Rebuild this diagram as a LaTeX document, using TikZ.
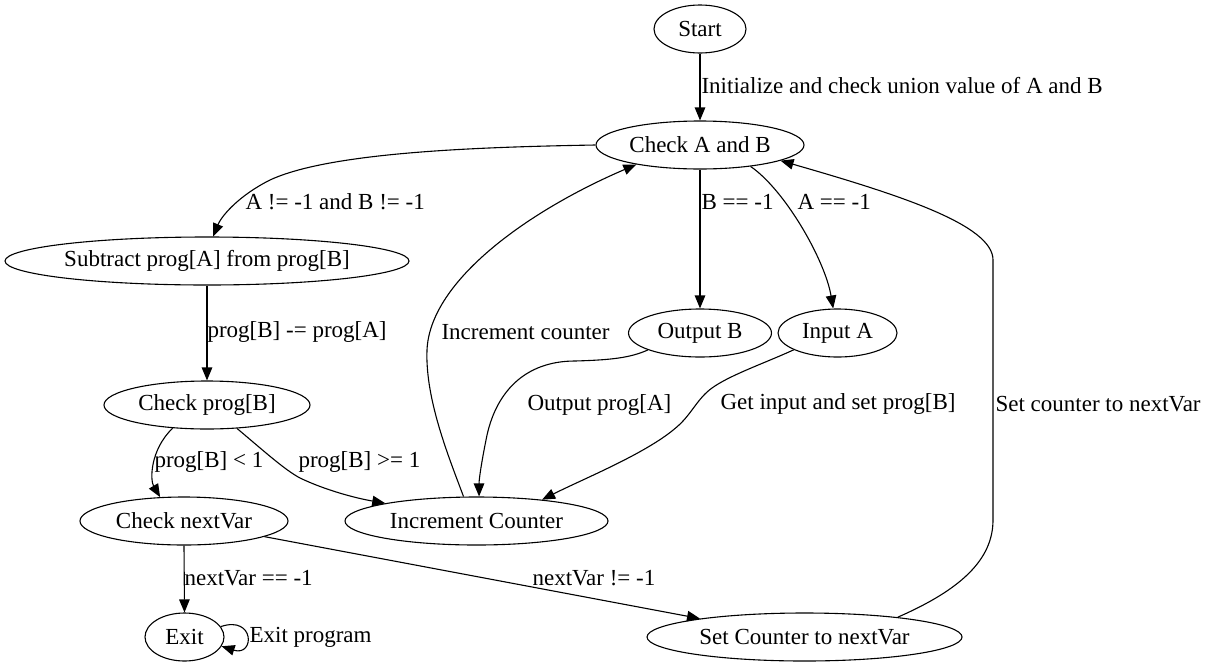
\documentclass[tikz,border=0pt]{standalone}
\usepackage{fontspec}
\setmainfont{Liberation Serif}
\usetikzlibrary{shapes.geometric,arrows.meta}
\newcommand\ctxt[1]{\makebox[0pt]{#1}}
\tikzset{
  st/.style={draw, ellipse, line width=1.1pt, inner sep=0pt, minimum height=48pt,
             font=\fontsize{23}{27}\selectfont},
  e/.style={line width=1.1pt, -{Triangle[length=13pt,width=10.5pt]}},
  lbl/.style={anchor=west, inner sep=0pt, font=\fontsize{23}{27}\selectfont},
}
\begin{document}
\begin{tikzpicture}[x=1pt,y=-1pt]
\useasboundingbox (0,0) rectangle (1217,667);
% nodes
\node[st, minimum width=92pt]  (start)   at (700,29)   {\ctxt{Start}};
\node[st, minimum width=208pt] (check)   at (700,145)  {\ctxt{Check A and B}};
\node[st, minimum width=404pt] (sub)     at (207,261)  {\ctxt{Subtract prog[A] from prog[B]}};
\node[st, minimum width=143pt] (outb)    at (700,333)  {\ctxt{Output B}};
\node[st, minimum width=119pt] (inputa)  at (837.5,333) {\ctxt{Input A}};
\node[st, minimum width=206pt] (checkpb) at (207,405)  {\ctxt{Check prog[B]}};
\node[st, minimum width=208pt] (nextvar) at (184,521)  {\ctxt{Check nextVar}};
\node[st, minimum width=263pt] (inc)     at (476.5,521) {\ctxt{Increment Counter}};
\node[st, minimum width=79pt]  (exit)    at (184.5,637) {\ctxt{Exit}};
\node[st, minimum width=315pt] (setc)    at (804.5,637) {\ctxt{Set Counter to nextVar}};
% edges
\draw[e] (start.south) -- (check.north)
  node[lbl, at={(701,86)}] (l1) {Initialize and check union value of A and B};
\draw[e] (check.west) .. controls (480,147) and (330,152) .. (270,180)
  .. controls (240,195) and (222,215) .. (sub.76)
  node[lbl, at={(245,202)}] (l2) {A != -1 and B != -1};
\draw[e] (check.south) -- (outb.north)
  node[lbl, at={(701,202)}] (l3) {B == -1};
\draw[e] (check.-23) .. controls (785,190) and (825,260) .. (inputa.100)
  node[lbl, at={(797,202)}] (l4) {A == -1};
\draw[e] (sub.south) -- (checkpb.north)
  node[lbl, at={(207,332)}] (l5) {prog[B] -= prog[A]};
\draw[e] (checkpb.-146) .. controls (150,450) and (150,480) .. (nextvar.135)
  node[lbl, at={(154,462)}] (l6) {prog[B] < 1};
\draw[e] (checkpb.-38) .. controls (265,452) and (285,470) .. (300,478)
  .. controls (325,490) and (355,498) .. (inc.169)
  node[lbl, at={(298,462)}] (l7) {prog[B] >= 1};
\draw[e] (outb.-162) .. controls (630,358) and (610,360) .. (575,361)
  .. controls (525,361) and (495,392) .. (486,440)
  .. controls (481,465) and (479,480) .. (inc.84)
  node[lbl, at={(527,405)}] (l8) {Output prog[A]};
\draw[e] (inputa.-159) .. controls (765,363) and (730,375) .. (712,388)
  .. controls (698,398) and (692,413) .. (679,425)
  .. controls (650,452) and (585,478) .. (inc.18)
  node[lbl, at={(720,404)}] (l9) {Get input and set prog[B]};
\draw[e] (inc.118) .. controls (450,460) and (425,400) .. (427,350)
  .. controls (430,280) and (530,210) .. (check.-163)
  node[lbl, at={(441,332)}] (l10) {Increment counter};
\draw[e] (nextvar.south) -- (exit.north)
  node[lbl, at={(184,578)}] (l11) {nextVar == -1};
\draw[e] (nextvar.-11) -- (setc.170.6)
  node[lbl, at={(532,578)}] (l12) {nextVar != -1};
\draw[e] (setc.12) .. controls (960,590) and (993,560) .. (993,520)
  -- (993,260) .. controls (993,225) and (900,195) .. (check.-11)
  node[lbl, at={(995,404)}] (l13) {Set counter to nextVar};
\draw[e] (exit.16) .. controls (255,615) and (255,657) .. (exit.-14)
  node[lbl, at={(249,637)}] (l14) {Exit program};
\end{tikzpicture}
\end{document}
